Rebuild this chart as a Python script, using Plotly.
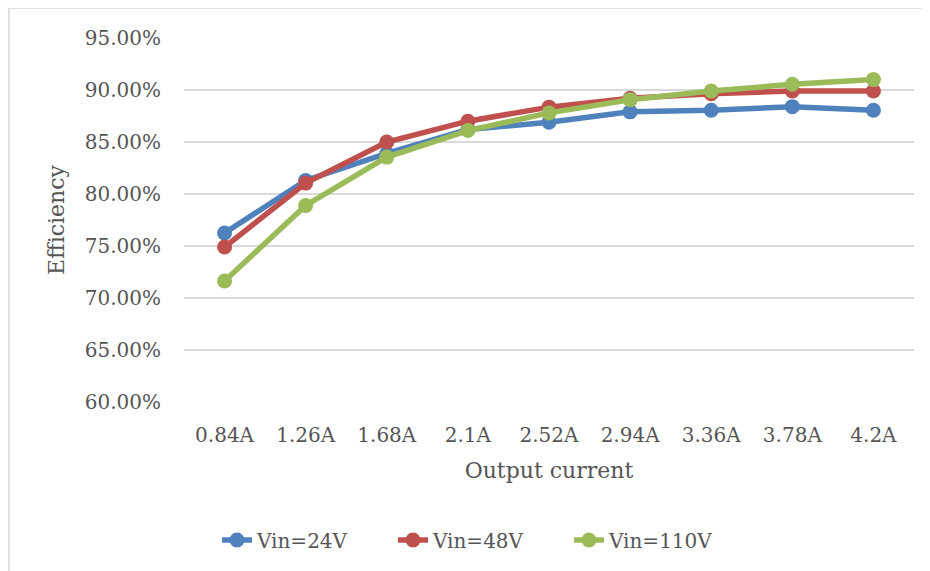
import plotly.graph_objects as go

categories = ["0.84A", "1.26A", "1.68A", "2.1A", "2.52A", "2.94A", "3.36A", "3.78A", "4.2A"]
vin24 = [0.7625, 0.813, 0.839, 0.862, 0.869, 0.879, 0.8805, 0.884, 0.8805]
vin48 = [0.749, 0.8105, 0.850, 0.870, 0.8835, 0.892, 0.8965, 0.899, 0.899]
vin110 = [0.7163, 0.789, 0.8355, 0.861, 0.878, 0.8907, 0.899, 0.9055, 0.910]
series_names = ["Vin=24V", "Vin=48V", "Vin=110V"]
colors = ["#4F81BD", "#C0504D", "#9BBB59"]

FONT = "DejaVu Serif"
TXT = "#555555"
fig = go.Figure()
for name, vals, col in zip(series_names, [vin24, vin48, vin110], colors):
    fig.add_trace(go.Scatter(
        x=categories, y=vals, name=name, mode="lines+markers",
        line=dict(color=col, width=5.5),
        marker=dict(color=col, size=15),
    ))

# page body has an 8px margin; work in page pixel coordinates
OFF = 8
W, H = 930, 571
ml, mt = 184 - OFF, 38 - OFF
plot_right, plot_bottom = 914 - OFF, 402 - OFF
mr, mb = W - plot_right, H - plot_bottom
pw, ph = W - ml - mr, H - mt - mb

def px(x):
    return (x - OFF - ml) / pw

def py(y):
    return (H - mb - (y - OFF)) / ph

fig.update_layout(
    width=W, height=H,
    margin=dict(l=ml, r=mr, t=mt, b=mb),
    paper_bgcolor="white", plot_bgcolor="white",
    font=dict(family=FONT, size=20, color=TXT),
    showlegend=True,
    legend=dict(orientation="h", x=px(217), xanchor="left", y=py(540), yanchor="middle",
                font=dict(family=FONT, size=20, color=TXT),
                entrywidth=131, entrywidthmode="pixels", tracegroupgap=0),
    xaxis=dict(type="category", range=[-0.5, 8.5], showgrid=False, showline=False,
               ticks="", ticklabelstandoff=19, tickfont=dict(family=FONT, size=20, color=TXT),
               title=dict(text="Output current", font=dict(family=FONT, size=22, color=TXT), standoff=16)),
    yaxis=dict(range=[0.60, 0.95], dtick=0.05, tickformat=".2%", showgrid=True,
               gridcolor="#D9D9D9", gridwidth=1.5, zeroline=False, showline=False,
               ticks="", ticklabelstandoff=22, tickfont=dict(family=FONT, size=20, color=TXT),
               title=dict(text="Efficiency", font=dict(family=FONT, size=22, color=TXT), standoff=14)),
    shapes=[dict(type="rect", xref="paper", yref="paper",
                 x0=px(9), x1=px(945), y0=py(590), y1=py(8),
                 line=dict(color="#D9D9D9", width=1.5), fillcolor="rgba(0,0,0,0)", layer="below")],
)

fig.write_html("out.html")
